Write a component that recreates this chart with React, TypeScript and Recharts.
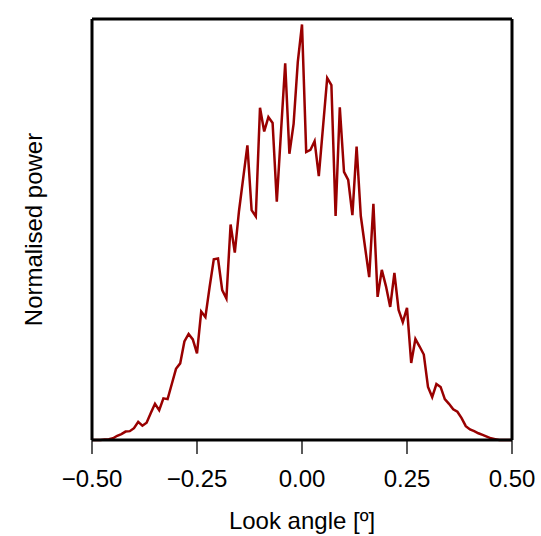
import React from "react";
import { LineChart, Line, XAxis, YAxis, Label } from "recharts";

// Normalised power, sampled every 0.01 deg from -0.50 to 0.50
const power: number[] = [
  0, 0, 0, 0.001, 0.002, 0.004, 0.01, 0.014, 0.02, 0.021,
  0.028, 0.043, 0.034, 0.041, 0.064, 0.086, 0.071, 0.099, 0.097, 0.133,
  0.169, 0.182, 0.234, 0.252, 0.239, 0.206, 0.305, 0.292, 0.363, 0.429,
  0.431, 0.356, 0.336, 0.512, 0.445, 0.544, 0.622, 0.7, 0.546, 0.531,
  0.789, 0.733, 0.767, 0.753, 0.566, 0.732, 0.895, 0.68, 0.751, 0.898,
  0.987, 0.684, 0.689, 0.71, 0.627, 0.743, 0.86, 0.843, 0.532, 0.79,
  0.637, 0.618, 0.534, 0.697, 0.532, 0.459, 0.387, 0.561, 0.34, 0.404,
  0.365, 0.316, 0.397, 0.309, 0.28, 0.314, 0.183, 0.24, 0.222, 0.203,
  0.126, 0.102, 0.133, 0.126, 0.097, 0.086, 0.073, 0.067, 0.052, 0.033,
  0.025, 0.021, 0.016, 0.012, 0.008, 0.004, 0.002, 0, 0, 0, 0,
];
const angleStart = -0.5;
const angleStep = 0.01;
const angles: number[] = power.map((_, i) => Math.round((angleStart + i * angleStep) * 100) / 100);
const xTicks: number[] = [-0.5, -0.25, 0, 0.25, 0.5];

const data = angles.map((a, i) => ({ angle: a, power: power[i] }));

const FONT = "'Liberation Sans', Arial, Helvetica, sans-serif";
const fmt = (v: number) => (v < 0 ? "\u2212" + Math.abs(v).toFixed(2) : v.toFixed(2));

const YLabel = (props: any) => {
  const vb = props.viewBox || {};
  const cx = vb.x + 33;
  const cy = vb.y + vb.height / 2;
  return (
    <text
      x={cx}
      y={cy}
      transform={`rotate(-90, ${cx}, ${cy})`}
      textAnchor="middle"
      dominantBaseline="central"
      fontFamily={FONT}
      fontSize={24}
      fill="#000"
    >
      Normalised power
    </text>
  );
};

export default function App() {
  return (
    <div style={{ position: "fixed", left: 0, top: 0, background: "#fff" }}>
      <LineChart
        width={541}
        height={536}
        data={data}
        margin={{ top: 18, right: 28, bottom: 0, left: 0 }}
      >
        <XAxis
          xAxisId="bottom"
          dataKey="angle"
          type="number"
          domain={[-0.5, 0.5]}
          ticks={xTicks}
          tickFormatter={fmt}
          height={96}
          tickSize={14}
          tickMargin={16}
          axisLine={{ stroke: "#000", strokeWidth: 3 }}
          tickLine={{ stroke: "#000", strokeWidth: 1.3 }}
          tick={{ fill: "#000", fontSize: 24, fontFamily: FONT }}
          interval={0}
        >
          <Label
            value="Look angle [º]"
            position="insideBottom"
            offset={7}
            style={{ fill: "#000", fontSize: 24, fontFamily: FONT }}
          />
        </XAxis>
        <XAxis
          xAxisId="top"
          orientation="top"
          dataKey="angle"
          type="number"
          domain={[-0.5, 0.5]}
          ticks={xTicks}
          height={1}
          tickSize={15}
          tick={false}
          axisLine={{ stroke: "#000", strokeWidth: 3 }}
          tickLine={{ stroke: "#000", strokeWidth: 1.3 }}
          interval={0}
        />
        <YAxis
          yAxisId="left"
          type="number"
          domain={[0, 1]}
          width={92}
          tick={false}
          tickLine={false}
          axisLine={{ stroke: "#000", strokeWidth: 3 }}
          label={<YLabel />}
        />
        <YAxis
          yAxisId="right"
          orientation="right"
          type="number"
          domain={[0, 1]}
          width={1}
          tick={false}
          tickLine={false}
          axisLine={{ stroke: "#000", strokeWidth: 3 }}
        />
        <Line
          xAxisId="bottom"
          yAxisId="left"
          type="linear"
          dataKey="power"
          stroke="#990000"
          strokeWidth={2.5}
          dot={false}
          activeDot={false}
          isAnimationActive={false}
        />
      </LineChart>
    </div>
  );
}
